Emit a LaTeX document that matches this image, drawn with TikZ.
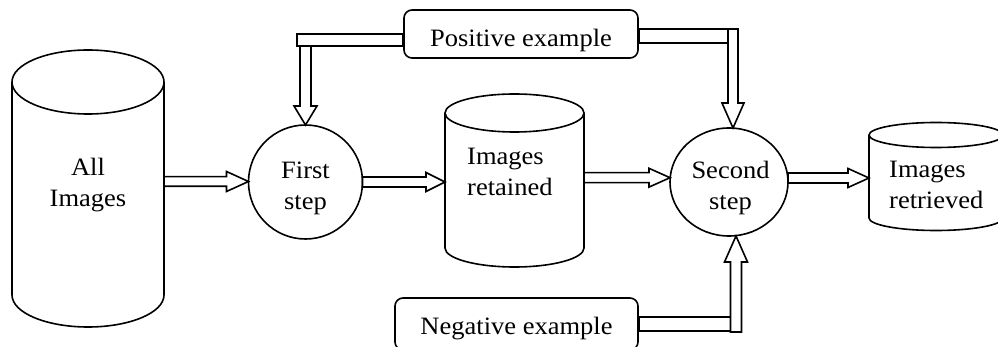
\documentclass[tikz,border=0pt]{standalone}
\usepackage{fontspec}
\setmainfont{Liberation Serif}[FakeStretch=1.06]
\usetikzlibrary{shapes.geometric,calc}
\tikzset{
  ln/.style={line width=1.6pt},
  blk/.style={draw, fill=white, line width=1.6pt, line join=miter},
  txt/.style={inner sep=0pt, font=\fontsize{25}{31}\selectfont},
  exbox/.style={draw, line width=1.6pt, rounded corners=8pt, inner sep=0pt,
    font=\fontsize{25}{31}\selectfont},
  anchorbox/.style={inner sep=0pt, outer sep=0pt},
}
% horizontal block arrow: from anchor, to anchor, y centre, shaft half, head half, head length
\newcommand{\harr}[6]{%
  \draw[blk] let \p1=(#1), \p2=(#2) in
    (\x1,#3+#4) -- (\x2-#6,#3+#4) -- (\x2-#6,#3+#5) -- (\x2,#3)
    -- (\x2-#6,#3-#5) -- (\x2-#6,#3-#4) -- (\x1,#3-#4) -- cycle;}
\begin{document}
\begin{tikzpicture}[x=1pt,y=1pt]
\useasboundingbox (0,0) rectangle (998,-347);

% ---- cylinder: All Images
\node[anchorbox, minimum width=152pt, minimum height=213pt] (c1) at (88,-188.5) {};
\draw[ln] (88,-82) ellipse [x radius=76, y radius=32];
\draw[ln] (12,-82) -- (12,-295) arc[start angle=180, end angle=360, x radius=76, y radius=32] -- (164,-82);
\node[txt, align=center] (t1) at (88,-185) {All\\Images};

% ---- first step
\node[circle, draw, ln, minimum size=114pt, inner sep=0pt, outer sep=0pt] (s1) at (305.5,-182) {};
\node[txt, align=center] (t2) at (305.5,-188) {First\\step};

% ---- cylinder: Images retained
\node[anchorbox, minimum width=139pt, minimum height=135pt] (c2) at (514.5,-180.5) {};
\draw[ln] (514.5,-113) ellipse [x radius=69.5, y radius=19];
\draw[ln] (445,-113) -- (445,-248) arc[start angle=180, end angle=360, x radius=69.5, y radius=19] -- (584,-113);
\node[txt, align=left, anchor=west] (t3) at (467,-171.7) {Images\\retained};

% ---- second step
\node[ellipse, draw, ln, minimum width=118pt, minimum height=108pt, inner sep=0pt, outer sep=0pt] (s2) at (729,-182) {};
\node[txt, align=center] (t4) at (730.5,-188) {Second\\step};

% ---- cylinder: Images retrieved
\node[anchorbox, minimum width=134pt, minimum height=83pt] (c3) at (936,-176.5) {};
\draw[ln] (936,-135) ellipse [x radius=67, y radius=12.5];
\draw[ln] (869,-135) -- (869,-218) arc[start angle=180, end angle=360, x radius=67, y radius=12.5] -- (1003,-135);
\node[txt, align=left, anchor=west] (t5) at (889,-185.4) {Images\\retrieved};

% ---- example boxes
\node[exbox, minimum width=234pt, minimum height=48pt, text height=30pt, text depth=4pt] (pos) at (521,-34) {Positive example};
\node[exbox, minimum width=243pt, minimum height=52pt, text height=24pt, text depth=4pt] (neg) at (516.5,-324) {Negative example};

% ---- horizontal block arrows
\harr{c1.east}{s1.west}{-181.5}{4.8}{10}{22}
\harr{s1.east}{c2.west}{-182}{5}{9.5}{19}
\harr{c2.east}{s2.west}{-177.7}{5}{9.4}{21}
\harr{s2.east}{c3.west}{-178}{5}{9.5}{21}

% ---- positive example -> first step
\draw[blk] let \p1=(pos.west), \p2=(s1.north) in (\x1,-34) rectangle (\x2-8.5,-46);
\draw[blk] let \p2=(s1.north) in (\x2-5.5,-46) -- (\x2-5.5,-106) -- (\x2-11.5,-106) -- (\x2,\y2)
  -- (\x2+11.5,-106) -- (\x2+5.5,-106) -- (\x2+5.5,-46) -- cycle;

% ---- positive example -> second step
\draw[blk] let \p1=(pos.east), \p2=(s2.north) in (\x1,-29) rectangle (\x2-1,-43);
\draw[blk] let \p2=(s2.north) in (\x2-1,-29) -- (\x2-1,-103) -- (\x2-7,-103) -- (\x2+4,\y2)
  -- (\x2+15,-103) -- (\x2+9,-103) -- (\x2+9,-29) -- cycle;

% ---- negative example -> second step
\draw[blk] let \p1=(neg.east), \p2=(s2.south) in (\x1,-317) rectangle (\x2+1.5,-331);
\draw[blk] let \p2=(s2.south) in (\x2+1.5,-332) -- (\x2+1.5,-262) -- (\x2-4.5,-262) -- (\x2+7,\y2)
  -- (\x2+18.5,-262) -- (\x2+12.5,-262) -- (\x2+12.5,-332) -- cycle;
\end{tikzpicture}
\end{document}
